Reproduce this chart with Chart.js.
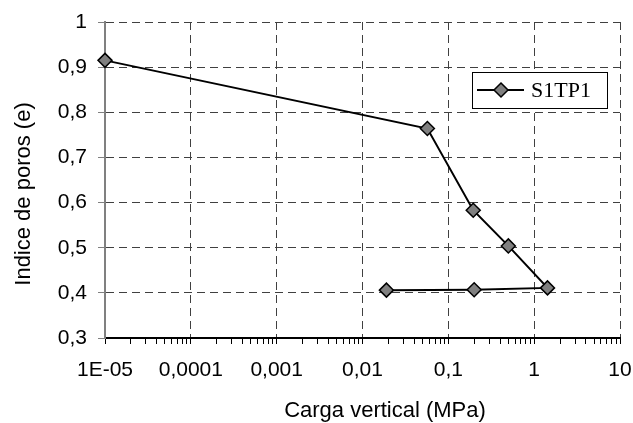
<!DOCTYPE html>
<html>
<head>
<meta charset="utf-8">
<script src="https://cdn.jsdelivr.net/npm/chart.js@4/dist/chart.umd.min.js"></script>
<style>
  html, body { margin: 0; padding: 0; background: #fff; }
  #wrap { width: 633px; height: 423px; position: relative; }
</style>
</head>
<body>
<div id="wrap"><canvas id="curva"></canvas></div>
<script>
// ---- Datos ----
const serieNombre = 'S1TP1';
const cargaMPa   = [0.00001, 0.057, 0.195, 0.5, 1.43, 0.2, 0.019];
const indicePoros = [0.915, 0.764, 0.583, 0.504, 0.411, 0.407, 0.406];

const xTickValues = [0.00001, 0.0001, 0.001, 0.01, 0.1, 1, 10];
const xTickLabels = ['1E-05', '0,0001', '0,001', '0,01', '0,1', '1', '10'];
const yTickValues = [0.3, 0.4, 0.5, 0.6, 0.7, 0.8, 0.9, 1];
const yTickLabels = ['0,3', '0,4', '0,5', '0,6', '0,7', '0,8', '0,9', '1'];

const tituloX = 'Carga vertical (MPa)';
const tituloY = 'Indice de poros (e)';

(function(){
  'use strict';

  const SANS  = '"Liberation Sans", Arial, sans-serif';
  const SERIF = '"Liberation Serif", "Times New Roman", serif';
  const GRID  = '#404040';

  const isDecade = (v) => {
    const l = Math.log10(v);
    return Math.abs(l - Math.round(l)) < 1e-9;
  };

  // marcas menores 2..9 en cada década
  const xAllTicks = [];
  for (let i = 0; i < xTickValues.length - 1; i++) {
    for (let k = 1; k <= 9; k++) xAllTicks.push(xTickValues[i] * k);
  }
  xAllTicks.push(xTickValues[xTickValues.length - 1]);

  // Leyenda dentro del área del gráfico (recuadro blanco con borde)
  const legendaInterna = {
    id: 'legendaInterna',
    afterDraw(chart){
      const ctx = chart.ctx;
      const ds = chart.data.datasets[0];
      const bx = 472, by = 72, bw = 135, bh = 36;
      ctx.save();
      ctx.fillStyle = '#fff';
      ctx.fillRect(bx, by, bw, bh);
      ctx.strokeStyle = '#000';
      ctx.lineWidth = 1;
      ctx.strokeRect(bx + 0.5, by + 0.5, bw, bh);
      const cy = by + bh / 2;
      ctx.beginPath();
      ctx.moveTo(477, cy); ctx.lineTo(524, cy);
      ctx.strokeStyle = ds.borderColor;
      ctx.lineWidth = ds.borderWidth;
      ctx.stroke();
      // rombo
      const r = ds.pointRadius, mx = 501;
      ctx.beginPath();
      ctx.moveTo(mx, cy - r); ctx.lineTo(mx + r, cy); ctx.lineTo(mx, cy + r); ctx.lineTo(mx - r, cy);
      ctx.closePath();
      ctx.fillStyle = ds.pointBackgroundColor;
      ctx.fill();
      ctx.lineWidth = ds.pointBorderWidth;
      ctx.strokeStyle = ds.pointBorderColor;
      ctx.stroke();
      ctx.fillStyle = '#000';
      ctx.font = '22px ' + SERIF;
      ctx.textBaseline = 'middle';
      ctx.textAlign = 'left';
      ctx.fillText(ds.label, 531, cy + 1);
      ctx.restore();
    }
  };

  // Títulos de ejes: en el original no están centrados sobre el área
  const titulosEjes = {
    id: 'titulosEjes',
    afterDraw(chart){
      const ctx = chart.ctx;
      ctx.save();
      ctx.fillStyle = '#000';
      ctx.font = '22px ' + SANS;
      ctx.textAlign = 'center';
      ctx.textBaseline = 'middle';
      ctx.fillText(tituloX, 385, 411);
      ctx.translate(24, 194);
      ctx.rotate(-Math.PI / 2);
      ctx.fillText(tituloY, 0, 0);
      ctx.restore();
    }
  };

  const fondoBlanco = {
    id: 'fondoBlanco',
    beforeDraw(chart){
      const c = chart.ctx;
      c.save();
      c.fillStyle = '#fff';
      c.fillRect(0, 0, chart.width, chart.height);
      c.restore();
    }
  };

  const puntos = cargaMPa.map((x, i) => ({ x, y: indicePoros[i] }));

  new Chart(document.getElementById('curva'), {
    type: 'scatter',
    data: {
      datasets: [{
        label: serieNombre,
        data: puntos,
        showLine: true,
        borderColor: '#000',
        borderWidth: 2,
        pointStyle: 'rectRot',
        pointRadius: 7,
        pointHoverRadius: 7,
        pointBackgroundColor: '#808080',
        pointBorderColor: '#000',
        pointBorderWidth: 1.5,
        tension: 0,
        clip: false
      }]
    },
    options: {
      responsive: true,
      maintainAspectRatio: false,
      animation: false,
      layout: { padding: { top: 22, right: 13, left: 0, bottom: 0 } },
      plugins: {
        legend: { display: false },
        tooltip: { enabled: false }
      },
      scales: {
        x: {
          type: 'logarithmic',
          min: 0.00001,
          max: 10,
          afterBuildTicks: (s) => { s.ticks = xAllTicks.map(v => ({ value: v })); },
          afterFit: (s) => { s.height = 85; s.paddingLeft = 0; s.paddingRight = 0; },
          border: { display: true, color: '#000', width: 2, dash: [8, 5] },
          grid: {
            color: (c) => (c.tick && isDecade(c.tick.value)) ? GRID : 'rgba(0,0,0,0)',
            lineWidth: 1,
            drawTicks: true,
            tickLength: 6,
            tickColor: '#000',
            tickWidth: 1
          },
          ticks: {
            autoSkip: false,
            maxRotation: 0,
            padding: 14,
            color: '#000',
            font: { family: SANS, size: 21 },
            callback: (v) => {
              const i = xTickValues.findIndex(t => Math.abs(Math.log10(t) - Math.log10(v)) < 1e-9);
              return i >= 0 ? xTickLabels[i] : '';
            }
          },
          title: { display: false }
        },
        y: {
          type: 'linear',
          min: 0.3,
          max: 1,
          afterBuildTicks: (s) => { s.ticks = yTickValues.map(v => ({ value: v })); },
          afterFit: (s) => { s.width = 105; s.paddingTop = 0; s.paddingBottom = 0; },
          border: { display: true, color: '#808080', width: 2, dash: [8, 5] },
          grid: {
            color: GRID,
            lineWidth: 1,
            drawTicks: true,
            tickLength: 7,
            tickColor: '#808080',
            tickWidth: 1
          },
          ticks: {
            padding: 11,
            color: '#000',
            font: { family: SANS, size: 21 },
            callback: (v, i) => yTickLabels[i] ?? ''
          },
          title: { display: false }
        }
      }
    },
    plugins: [fondoBlanco, titulosEjes, legendaInterna]
  });
})();
</script>
</body>
</html>
